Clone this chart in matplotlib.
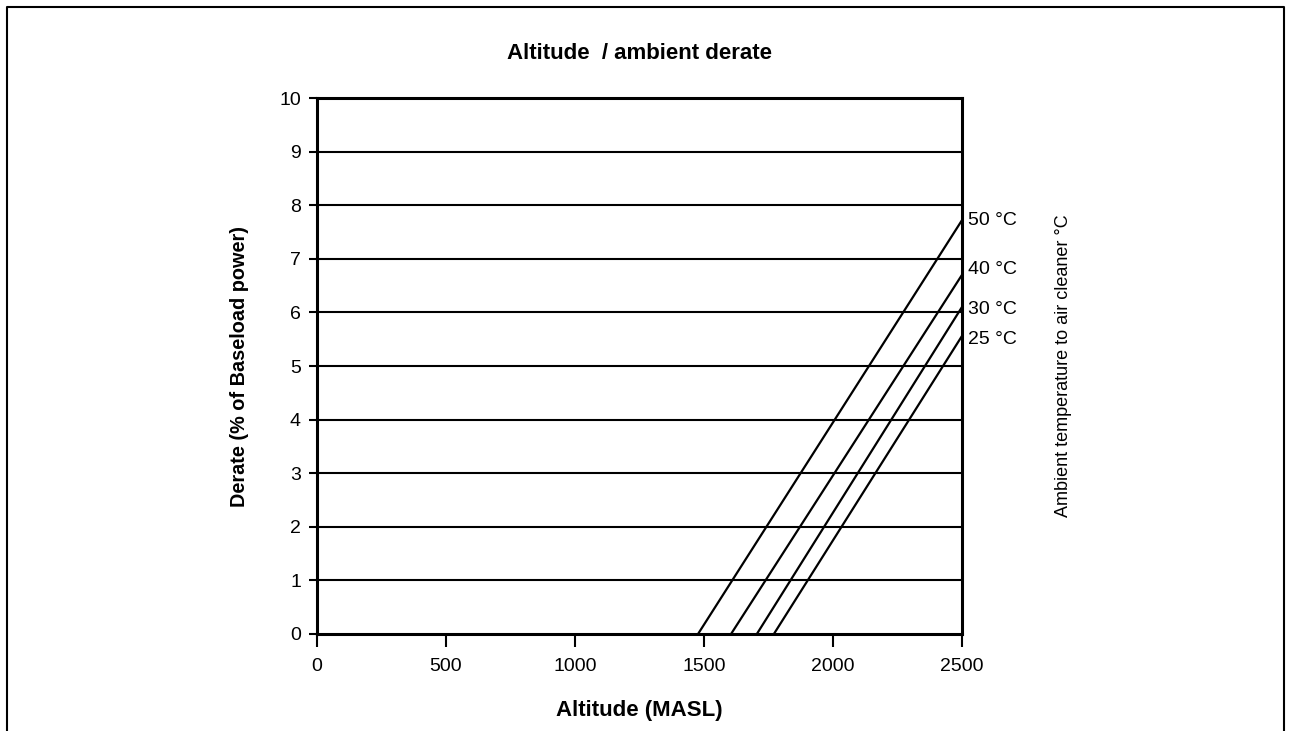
import matplotlib.pyplot as plt
from matplotlib.lines import Line2D

plt.rcParams['font.family'] = ['Liberation Sans', 'DejaVu Sans']

# derate lines: start altitude (0 %) and value at 2500 m
temps = ['50 °C', '40 °C', '30 °C', '25 °C']
alt_start = [1477, 1605, 1705, 1771]
alt_end = [2500, 2500, 2500, 2500]
derate_end = [7.72, 6.70, 6.10, 5.56]

x_ticks = [0, 500, 1000, 1500, 2000, 2500]
y_ticks = list(range(0, 11))

fig = plt.figure(figsize=(12.9, 7.31), dpi=100)
ax = fig.add_axes([0.2457, 0.1327, 0.5, 0.7332])

for y in y_ticks[1:-1]:
    ax.axhline(y, color='black', lw=1.5, zorder=1)

for t, xs, xe, ye in zip(temps, alt_start, alt_end, derate_end):
    ax.plot([xs, xe], [0, ye], color='black', lw=1.6, clip_on=False, zorder=2)

ax.set_xlim(0, 2500)
ax.set_ylim(0, 10)
ax.set_xticks(x_ticks)
ax.set_yticks(y_ticks)
ax.tick_params(axis='both', direction='out', width=1.5, labelsize=14)
ax.tick_params(axis='x', length=9.5, pad=8)
ax.tick_params(axis='y', length=5.5, pad=6)
for s in ax.spines.values():
    s.set_linewidth(2.2)

# temperature labels at the right edge
label_y = [7.72, 6.81, 6.06, 5.50]
for t, ly in zip(temps, label_y):
    ax.text(2525, ly, t, fontsize=14, va='center', ha='left')

ax.text(1.157, 0.5, 'Ambient temperature to air cleaner °C', transform=ax.transAxes,
        rotation=90, va='center', ha='center', fontsize=13)

ax.set_title('Altitude  / ambient derate', fontsize=16, fontweight='bold', pad=28)
ax.set_xlabel('Altitude (MASL)', fontsize=16, fontweight='bold', labelpad=18)
ax.set_ylabel('Derate (% of Baseload power)', fontsize=14.3, fontweight='bold', labelpad=22)

# outer frame (bottom open)
fx0, fx1, fy1 = 7 / 1290, 1284 / 1290, 1 - 7 / 731
fig.add_artist(Line2D([fx0, fx0, fx1, fx1], [0, fy1, fy1, 0], color='black', lw=1.5,
                      transform=fig.transFigure))

fig.savefig('out.png', dpi=100)
